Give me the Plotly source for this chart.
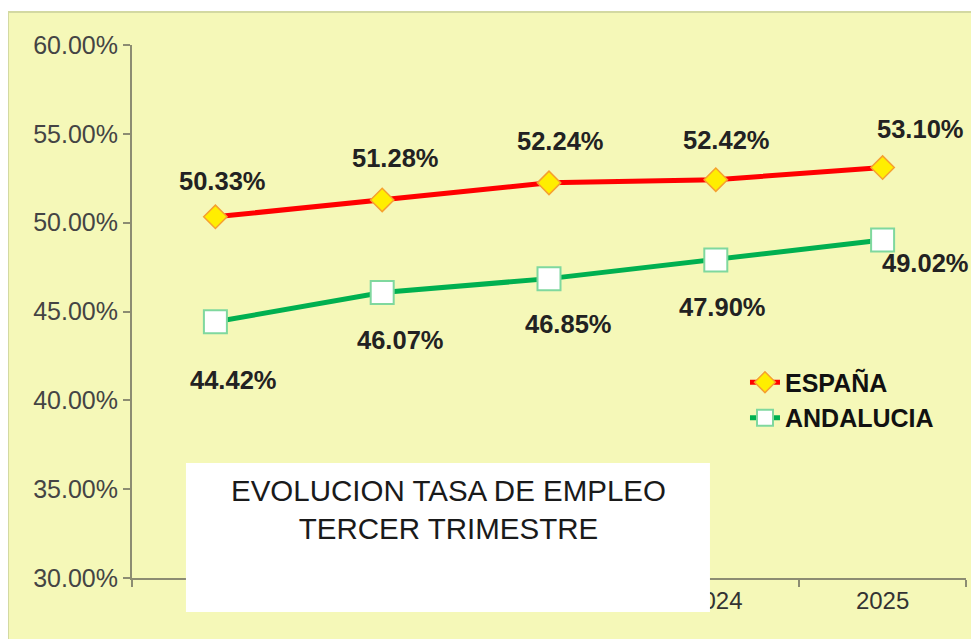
import plotly.graph_objects as go

years = ["2021", "2022", "2023", "2024", "2025"]
espana = [50.33, 51.28, 52.24, 52.42, 53.10]
andalucia = [44.42, 46.07, 46.85, 47.90, 49.02]
y_ticks = [30, 35, 40, 45, 50, 55, 60]
y_tick_labels = [f"{v:.2f}%" for v in y_ticks]

# label offsets (pixels) for the data labels
esp_dx = [7, 13, 11, 11, 38]
esp_dy = [36, 42, 42, 40, 39]
and_dx = [18, 18, 19, 7, 43]
and_dy = [-58, -48, -45, -47, -23]

BG = "#F5F8B8"
AXIS = "#8C8C72"
FONT = "Liberation Sans, Arial, sans-serif"

fig = go.Figure()
fig.add_trace(go.Scatter(
    x=years, y=espana, name="<b>ESPAÑA</b>", mode="lines+markers",
    line=dict(color="#FF0000", width=5),
    marker=dict(symbol="diamond", size=18, color="#FFEE00",
                line=dict(color="#F5A030", width=1.5)),
))
fig.add_trace(go.Scatter(
    x=years, y=andalucia, name="<b>ANDALUCIA</b>", mode="lines+markers",
    line=dict(color="#00B050", width=5),
    marker=dict(symbol="square", size=23, color="#FFFFFF",
                line=dict(color="#7FD89E", width=2)),
))

annotations = []
for i, (xv, yv) in enumerate(zip(years, espana)):
    annotations.append(dict(x=i, y=yv, xref="x", yref="y", text=f"<b>{yv:.2f}%</b>",
                            showarrow=False, xshift=esp_dx[i], yshift=esp_dy[i],
                            xanchor="center", yanchor="middle",
                            font=dict(family=FONT, size=25.5, color="#222222")))
for i, (xv, yv) in enumerate(zip(years, andalucia)):
    annotations.append(dict(x=i, y=yv, xref="x", yref="y", text=f"<b>{yv:.2f}%</b>",
                            showarrow=False, xshift=and_dx[i], yshift=and_dy[i],
                            xanchor="center", yanchor="middle",
                            font=dict(family=FONT, size=25.5, color="#222222")))
annotations.append(dict(x=0.379, y=0.129, xref="paper", yref="paper",
                        xanchor="center", yanchor="middle",
                        text="EVOLUCION TASA DE EMPLEO<br>TERCER TRIMESTRE",
                        showarrow=False, align="center",
                        font=dict(family=FONT, size=29.5, color="#1a1a1a")))

shapes = [
    dict(type="rect", xref="paper", yref="paper", x0=-0.1487, x1=1.03, y0=-0.13, y1=1.0619,
         fillcolor=BG, line=dict(color="#D3D9A2", width=2), layer="below"),
    dict(type="rect", xref="paper", yref="paper", x0=0.0647, x1=0.693, y0=-0.0638, y1=0.2158,
         fillcolor="#FFFFFF", line=dict(width=0), layer="above"),
]

fig.update_layout(
    width=971, height=631,
    margin=dict(l=124, r=13, t=37, b=61),
    paper_bgcolor="#FFFFFF",
    plot_bgcolor="rgba(0,0,0,0)",
    font=dict(family=FONT, size=25, color="#333333"),
    showlegend=True,
    legend=dict(x=0.735, y=0.41, xanchor="left", yanchor="top",
                bgcolor="rgba(0,0,0,0)", tracegroupgap=0,
                font=dict(family=FONT, size=25, color="#111111")),
    annotations=annotations,
    shapes=shapes,
    xaxis=dict(type="category", categoryorder="array", categoryarray=years,
               range=[-0.5, 4.5], ticks="outside", ticklen=7, tickson="boundaries",
               tickcolor=AXIS, tickwidth=2, showline=True, linecolor=AXIS, linewidth=2,
               showgrid=False, zeroline=False, tickangle=0,
               tickfont=dict(family=FONT, size=24, color="#333333")),
    yaxis=dict(range=[30, 60], tickvals=y_ticks, ticktext=y_tick_labels,
               ticks="outside", ticklen=7, tickcolor=AXIS, tickwidth=2,
               showline=True, linecolor=AXIS, linewidth=2, showgrid=False, zeroline=False,
               tickfont=dict(family=FONT, size=25, color="#444444")),
)

fig.write_html("out.html")
